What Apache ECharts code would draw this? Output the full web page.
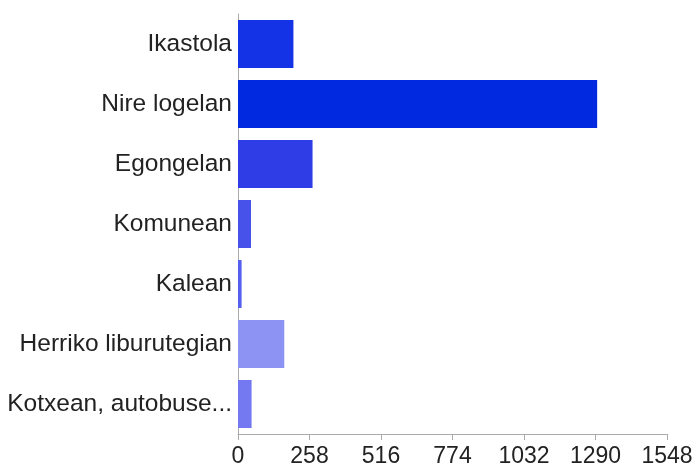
<!DOCTYPE html>
<html>
<head>
<meta charset="utf-8">
<script src="https://cdn.jsdelivr.net/npm/echarts@6/dist/echarts.min.js"></script>
<style>
  html, body { margin: 0; padding: 0; background: #fff; }
  #chart { width: 696px; height: 468px; }
</style>
</head>
<body>
<div id="chart"></div>
<script>
var categories = ['Ikastola', 'Nire logelan', 'Egongelan', 'Komunean', 'Kalean', 'Herriko liburutegian', 'Kotxean, autobuse...'];
var values = [200, 1296, 269, 47, 13, 167, 49];
var barColors = ['#1533e6', '#0029e0', '#2f3de6', '#4652ea', '#5560ee', '#8c93f2', '#7479f2'];
var ticks = [0, 258, 516, 774, 1032, 1290, 1548];

(function() {
  var chart = echarts.init(document.getElementById('chart'));
  var option = {
    animation: false,
    grid: { left: 238, right: 29, top: 14, bottom: 30, containLabel: false },
    xAxis: {
      type: 'value',
      min: ticks[0],
      max: ticks[ticks.length - 1],
      interval: ticks[1] - ticks[0],
      splitLine: { show: false },
      axisLine: { show: true, lineStyle: { color: '#aaa' } },
      axisTick: { show: true, length: 6, lineStyle: { color: '#aaa' } },
      axisLabel: {
        color: '#222', fontSize: 23, fontFamily: 'Liberation Sans', margin: 11,
        formatter: function(v) { return String(v); }
      }
    },
    yAxis: {
      type: 'category',
      inverse: true,
      data: categories,
      axisLine: { lineStyle: { color: '#aaa' } },
      axisTick: { alignWithLabel: true, length: 5, lineStyle: { color: '#aaa' } },
      axisLabel: { color: '#222', fontSize: 24.5, fontFamily: 'Liberation Sans', margin: 6 }
    },
    series: [{
      type: 'bar',
      barWidth: 48,
      data: values.map(function(v, i) {
        return { value: v, itemStyle: { color: barColors[i] } };
      })
    }]
  };
  chart.setOption(option);
})();
</script>
</body>
</html>
